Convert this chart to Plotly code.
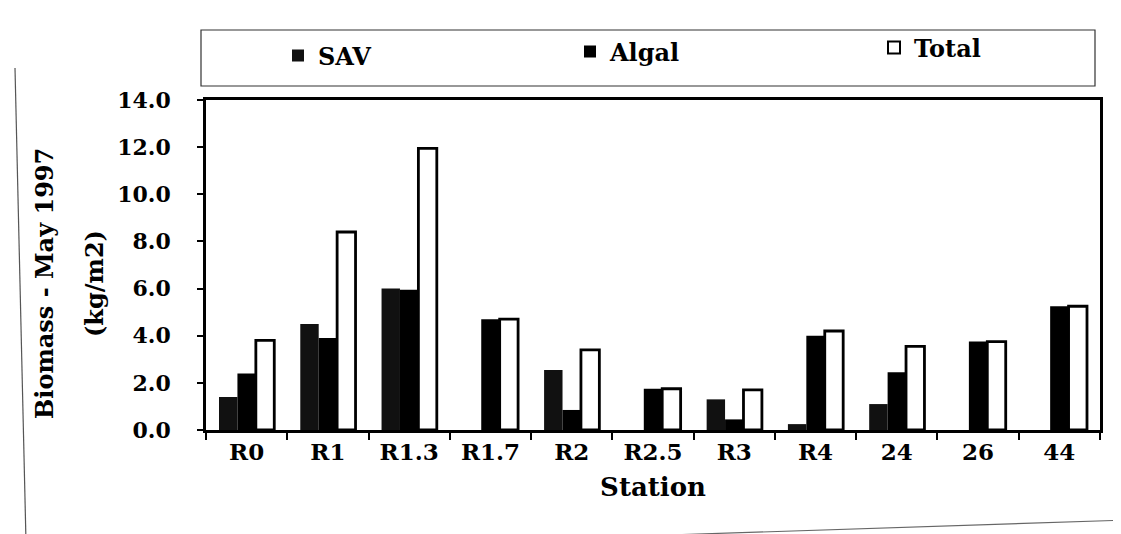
import plotly.graph_objects as go

stations = ["R0", "R1", "R1.3", "R1.7", "R2", "R2.5", "R3", "R4", "24", "26", "44"]
sav = [1.4, 4.5, 6.0, 0.0, 2.55, 0.0, 1.3, 0.25, 1.1, 0.0, 0.0]
algal = [2.4, 3.9, 5.95, 4.7, 0.85, 1.75, 0.45, 4.0, 2.45, 3.75, 5.25]
total = [3.8, 8.4, 11.95, 4.7, 3.4, 1.75, 1.7, 4.2, 3.55, 3.75, 5.25]
y_ticks = [0, 2, 4, 6, 8, 10, 12, 14]

W, H = 1121, 534
L, R, T, B = 198, 29, 92, 112
PW, PH = W - L - R, H - T - B

def px(x):
    return (x - L) / PW

def py(y):
    return (H - B - y) / PH

FONT = "DejaVu Serif"

def leg(xpix, ypix):
    return dict(orientation="h", x=px(xpix), y=py(ypix), xanchor="left", yanchor="middle",
                font=dict(family=FONT, size=24, color="black"),
                bgcolor="rgba(0,0,0,0)", itemsizing="constant")

fig = go.Figure()
fig.add_trace(go.Bar(name="<b>SAV</b>", x=stations, y=sav, legend="legend",
                     marker=dict(color="#111111", line=dict(color="#000", width=0))))
fig.add_trace(go.Bar(name="<b>Algal</b>", x=stations, y=algal, legend="legend2",
                     marker=dict(color="#000000", line=dict(color="#000", width=0))))
fig.add_trace(go.Bar(name="<b>Total</b>", x=stations, y=total, legend="legend3",
                     marker=dict(color="#ffffff", line=dict(color="#000", width=2.8))))

fig.update_layout(
    width=W, height=H,
    margin=dict(l=L, r=R, t=T, b=B),
    paper_bgcolor="white", plot_bgcolor="white",
    barmode="group", bargap=0.32, bargroupgap=0,
    font=dict(family=FONT, color="black"),
    showlegend=True,
    legend=leg(270, 48), legend2=leg(562, 44), legend3=leg(866, 40),
    xaxis=dict(
        title=dict(text="<b>Station</b>", font=dict(family=FONT, size=26), standoff=14),
        tickfont=dict(family=FONT, size=23),
        tickprefix="<b>", ticksuffix="</b>",
        showline=True, linecolor="black", linewidth=2.5, mirror=True,
        ticks="outside", ticklen=7, tickcolor="black", tickwidth=1.5,
        tickson="boundaries", showgrid=False,
    ),
    yaxis=dict(
        range=[0, 14], tickvals=y_ticks,
        ticktext=["<b>%.1f</b>" % v for v in y_ticks],
        tickfont=dict(family=FONT, size=22),
        ticklabelstandoff=22,
        showline=True, linecolor="black", linewidth=2.5, mirror=True,
        ticks="outside", ticklen=6, tickcolor="black", tickwidth=1.5,
        showgrid=False, zeroline=False,
    ),
    annotations=[
        dict(text="<b>Biomass - May 1997</b>", xref="paper", yref="paper", x=px(36), y=py(276),
             textangle=-90, showarrow=False, font=dict(family=FONT, size=24),
             xanchor="center", yanchor="middle"),
        dict(text="<b>(kg/m2)</b>", xref="paper", yref="paper", x=px(86), y=py(276),
             textangle=-90, showarrow=False, font=dict(family=FONT, size=24),
             xanchor="center", yanchor="middle"),
    ],
    shapes=[
        dict(type="rect", xref="paper", yref="paper", x0=px(193), x1=px(1087), y0=py(22), y1=py(78),
             line=dict(color="#333", width=1.2), fillcolor="rgba(0,0,0,0)", layer="below"),
        dict(type="line", xref="paper", yref="paper", x0=px(7), x1=px(18), y0=py(60), y1=py(534),
             line=dict(color="#555", width=1.2)),
        dict(type="line", xref="paper", yref="paper", x0=px(540), x1=px(1121), y0=py(531), y1=py(512),
             line=dict(color="#666", width=1.2)),
    ],
)

fig.write_html("out.html")
